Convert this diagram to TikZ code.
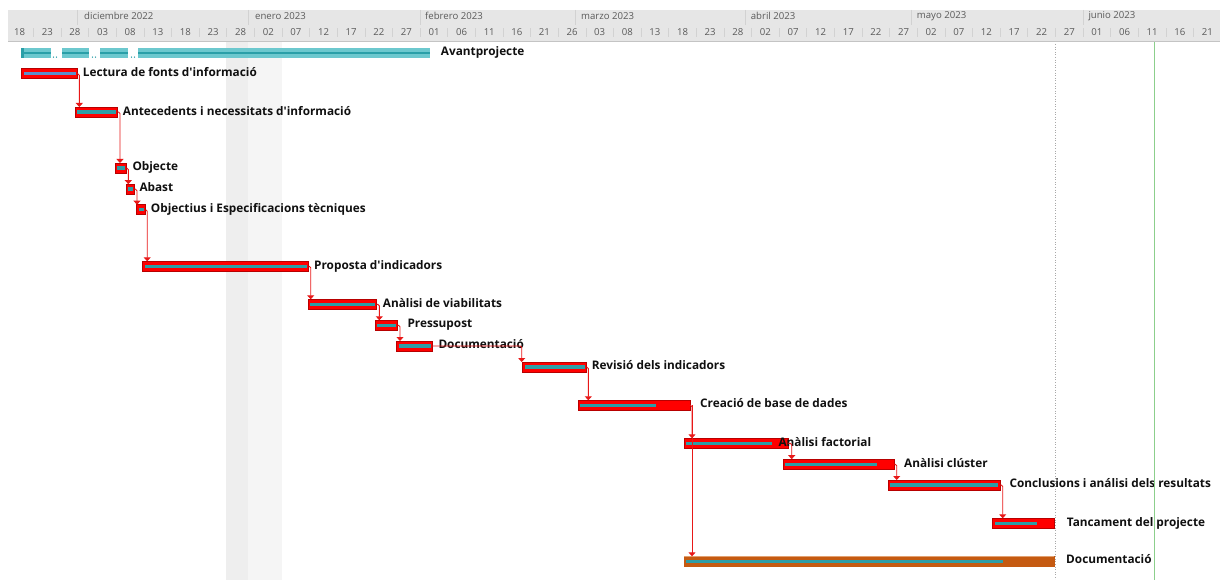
\documentclass[tikz,border=0pt]{standalone}
\usepackage{fontspec}
\setmainfont{Open Sans}[Ligatures=TeXOff]
\usetikzlibrary{arrows.meta,calc}
\definecolor{hdrbg}{HTML}{E6E6E6}
\definecolor{hdrline}{HTML}{C4C4C4}
\definecolor{hdrtext}{HTML}{5A5A5A}
\definecolor{tickc}{HTML}{D2D2D2}
\definecolor{holA}{HTML}{EEEEEE}
\definecolor{holB}{HTML}{F5F5F5}
\definecolor{barred}{HTML}{FF0000}
\definecolor{bardark}{HTML}{B80000}
\definecolor{progteal}{HTML}{2E9DA6}
\definecolor{progblue}{HTML}{5B8FCB}
\definecolor{sumlight}{HTML}{6CC8CE}
\definecolor{sumdark}{HTML}{2A9FA8}
\definecolor{docorange}{HTML}{C55A11}
\definecolor{doclight}{HTML}{E2A070}
\definecolor{connred}{HTML}{E81818}
\definecolor{dotc}{HTML}{A8A8A8}
\definecolor{todayc}{HTML}{8CCF8C}
\definecolor{labelc}{HTML}{101010}
\newcommand{\gtask}[6]{%
  \node[#6, minimum width={#3pt-#2pt}] (#1) at ({(#2+#3)/2},#4) {};
  \fill[prog] ({#2+1.8},{#4-1.7}) rectangle (#5,{#4+1.7});
}
\begin{document}
\begin{tikzpicture}[x=1pt,y=-1pt,
  taskbar/.style={rectangle, fill=barred, draw=bardark, line width=0.8pt, minimum height=10pt, inner sep=0pt, outer sep=0pt},
  docbar/.style={rectangle, fill=docorange, draw=docorange, line width=0.6pt, minimum height=10pt, inner sep=0pt, outer sep=0pt},
  prog/.style={fill=progteal},
  lbl/.style={anchor=base west, inner sep=0pt, font=\fontsize{11.8}{14}\selectfont\bfseries, text=labelc},
  monthlbl/.style={anchor=west, inner sep=0pt, font=\fontsize{9.6}{11}\selectfont, text=hdrtext},
  daylbl/.style={anchor=center, inner sep=0pt, font=\fontsize{9.6}{11}\selectfont, text=hdrtext},
  tickline/.style={draw=tickc, line width=0.8pt},
  conn/.style={draw=connred, line width=0.9pt, rounded corners=1.5pt, -{Triangle[width=7pt,length=4pt]}},
]
\useasboundingbox (0,0) rectangle (1220,580);
\fill[white] (0,0) rectangle (1220,580);
% holiday shading
\fill[holA] (226,42) rectangle (248.3,580);
\fill[holB] (248.3,42) rectangle (281.7,580);
% header
\fill[hdrbg] (8,10) rectangle (1220,42);
\draw[hdrline, line width=1pt] (8,42) -- (1220,42);
\foreach \mx in {77.7,248.3,420,575,745.7,911.7,1083.3}
  \draw[tickline] (\mx,10) -- (\mx,25);
\foreach \k in {1,...,43}
  \draw[tickline] ({5.9+27.62*\k},28.5) -- ++(0,9);
\node[monthlbl] (m1) at (84,16.3) {diciembre 2022};
\node[monthlbl] (m2) at (255,16.3) {enero 2023};
\node[monthlbl] (m3) at (425,16.3) {febrero 2023};
\node[monthlbl] (m4) at (581,16.3) {marzo 2023};
\node[monthlbl] (m5) at (750.7,16.3) {abril 2023};
\node[monthlbl] (m6) at (916.7,16.3) {mayo 2023};
\node[monthlbl] (m7) at (1088.3,16.3) {junio 2023};
\foreach \d [count=\k from 0] in {18,23,28,03,08,13,18,23,28,02,07,12,17,22,27,01,06,11,16,21,26,03,08,13,18,23,28,02,07,12,17,22,27,02,07,12,17,22,27,01,06,11,16,21}
  \node[daylbl] (d\k) at ({19.7+27.62*\k},32.5) {\d};
% summary bar Avantprojecte
\foreach \a/\b in {21/50.7,61.7/89.3,100/127.7,138.3/430}{
  \fill[sumlight] (\a,48.3) rectangle (\b,58.3);
  \fill[sumdark] (\a,51.6) rectangle (\b,54.4);
}
\fill[sumdark] (21,48.3) rectangle (23.5,58.3);
\foreach \p in {53.5,56.5,92.5,95.5,131.5,134.5}
  \fill[sumdark] (\p,57.2) circle (0.7);
\node[lbl] (l0) at (440.7,56) {Avantprojecte};
% tasks
\gtask{t1}{21.7}{77.3}{73.7}{75.5}{taskbar}
\fill[progblue] (23.5,72) rectangle (75.5,75.4);
\gtask{t2}{75}{117.3}{112}{115.5}{taskbar}
\gtask{t3}{115}{126.7}{168}{125}{taskbar}
\gtask{t4}{126}{134.3}{189.2}{132.6}{taskbar}
\gtask{t5}{136.7}{145.7}{209.7}{144}{taskbar}
\gtask{t6}{142.7}{308.7}{266.3}{307}{taskbar}
\gtask{t7}{308.3}{376.7}{304.3}{375}{taskbar}
\gtask{t8}{375}{397.3}{325.3}{395.6}{taskbar}
\gtask{t9}{396.7}{432.3}{346}{430.6}{taskbar}
\gtask{t10}{522.7}{586.7}{367}{585}{taskbar}
\gtask{t11}{578.3}{690}{405.3}{656}{taskbar}
\gtask{t12}{684}{788.3}{443.3}{771.7}{taskbar}
\gtask{t13}{783.3}{894}{464.2}{876.7}{taskbar}
\gtask{t14}{888.3}{1000}{485}{998}{taskbar}
\gtask{t15}{992.7}{1054}{523.3}{1036.7}{taskbar}
\gtask{t16}{684}{1054}{561.3}{1003.3}{docbar}
\draw[doclight, line width=0.8pt] (t16.north west) -- (t16.north east);
% labels
\node[lbl] (l1) at (82.7,77) {Lectura de fonts d'informació};
\node[lbl] (l2) at (122.7,115.2) {Antecedents i necessitats d'informació};
\node[lbl] (l3) at (132.3,171) {Objecte};
\node[lbl] (l4) at (139.3,191.5) {Abast};
\node[lbl] (l5) at (150.7,212.5) {Objectius i Especificacions tècniques};
\node[lbl] (l6) at (314,269) {Proposta d'indicadors};
\node[lbl] (l7) at (382.7,307) {Anàlisi de viabilitats};
\node[lbl] (l8) at (407.3,327.6) {Pressupost};
\node[lbl] (l9) at (438.3,348.6) {Documentació};
\node[lbl] (l10) at (591.7,369.3) {Revisió dels indicadors};
\node[lbl] (l11) at (700,407.6) {Creació de base de dades};
\node[lbl] (l12) at (778.3,446) {Anàlisi factorial};
\node[lbl] (l13) at (904,467) {Anàlisi clúster};
\node[lbl] (l14) at (1009.3,487.6) {Conclusions i análisi dels resultats};
\node[lbl] (l15) at (1066.7,526) {Tancament del projecte};
\node[lbl] (l16) at (1066,563.3) {Documentació};
% vertical markers
\draw[dotc, line width=0.9pt, dash pattern=on 1pt off 1.6pt] (1055,44) -- (1055,580);
\draw[todayc, line width=1pt] (1154.3,42.5) -- (1154.3,580);
% connectors
\draw[conn] (t1.east) -- ++(2,0) coordinate (c1) -- (c1 |- t2.north);
\draw[conn] (t2.east) -- ++(2.7,0) coordinate (c2) -- (c2 |- t3.north);
\draw[conn] (t3.east) -- ++(1.6,0) coordinate (c3) -- (c3 |- t4.north);
\draw[conn] (t4.east) -- ++(2.7,0) coordinate (c4) -- (c4 |- t5.north);
\draw[conn] (t5.east) -- ++(1.5,0) coordinate (c5) -- (c5 |- t6.north);
\draw[conn] (t6.east) -- ++(2,0) coordinate (c6) -- (c6 |- t7.north);
\draw[conn] (t7.east) -- ++(2.6,0) coordinate (c7) -- (c7 |- t8.north);
\draw[conn] (t8.east) -- ++(2.7,0) coordinate (c8) -- (c8 |- t9.north);
\draw[conn] (t9.east) -- ++(89.4,0) coordinate (c9) -- (c9 |- t10.north);
\draw[conn] (t10.east) -- ++(1.6,0) coordinate (c10) -- (c10 |- t11.north);
\draw[conn] (t11.east) -- ++(2,0) coordinate (c11) -- (c11 |- t12.north);
\draw[conn] (c11) -- (c11 |- t16.north);
\draw[conn] (t12.east) -- ++(3.4,0) coordinate (c12) -- (c12 |- t13.north);
\draw[conn] (t13.east) -- ++(2.7,0) coordinate (c13) -- (c13 |- t14.north);
\draw[conn] (t14.east) -- ++(2.7,0) coordinate (c14) -- (c14 |- t15.north);
\end{tikzpicture}
\end{document}
